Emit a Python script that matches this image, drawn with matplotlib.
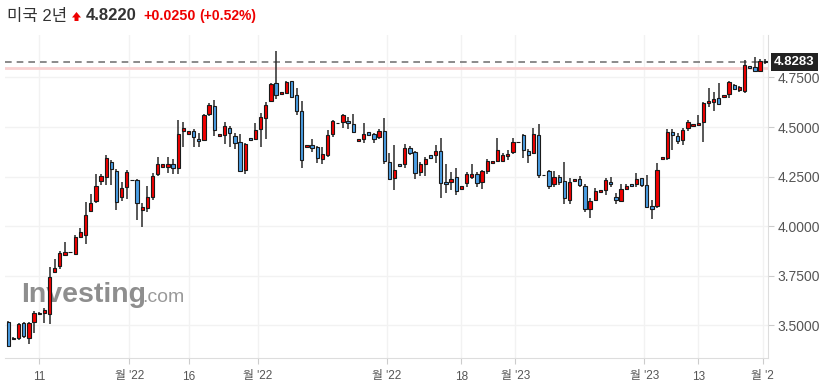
import numpy as np
import matplotlib
matplotlib.use("Agg")
import matplotlib.pyplot as plt
import matplotlib.transforms as mtrans
from matplotlib.patches import Polygon

plt.rcParams['font.family'] = ['Liberation Sans', 'Noto Sans CJK KR', 'DejaVu Sans']

# OHLC values (US 2Y yield, daily)
opens = [3.516, 3.439, 3.439, 3.513, 3.439, 3.519, 3.564, 3.565, 3.560, 3.771,
         3.800, 3.857, 3.869, 3.862, 3.948, 3.958, 4.079, 4.129, 4.230, 4.250,
         4.326, 4.279, 4.149, 4.200, 4.232, 4.232, 4.084, 4.091, 4.149, 4.265,
         4.300, 4.300, 4.313, 4.295, 4.482, 4.467, 4.480, 4.440, 4.437, 4.568,
         4.605, 4.454, 4.462, 4.494, 4.454, 4.425, 4.285, 4.445, 4.442, 4.489,
         4.544, 4.630, 4.724, 4.665, 4.673, 4.731, 4.660, 4.581, 4.398, 4.408,
         4.400, 4.338, 4.361, 4.464, 4.519, 4.524, 4.531, 4.514, 4.428, 4.442,
         4.474, 4.464, 4.449, 4.480, 4.323, 4.242, 4.314, 4.314, 4.393, 4.373,
         4.272, 4.316, 4.358, 4.361, 4.378, 4.223, 4.225, 4.247, 4.190, 4.217,
         4.250, 4.262, 4.222, 4.280, 4.318, 4.331, 4.331, 4.353, 4.376, 4.423,
         4.460, 4.378, 4.368, 4.460, 4.257, 4.277, 4.213, 4.249, 4.228, 4.134,
         4.227, 4.237, 4.202, 4.086, 4.133, 4.173, 4.183, 4.223, 4.146, 4.128,
         4.187, 4.212, 4.215, 4.242, 4.207, 4.101, 4.101, 4.338, 4.344, 4.474,
         4.457, 4.437, 4.494, 4.504, 4.509, 4.524, 4.620, 4.627, 4.647, 4.650,
         4.665, 4.711, 4.687, 4.682, 4.806, 4.801, 4.784, 4.834]
closes = [3.398, 3.431, 3.508, 3.449, 3.513, 3.562, 3.559, 3.578, 3.743, 3.790,
          3.864, 3.871, 3.869, 3.945, 3.971, 4.055, 4.116, 4.202, 4.254, 4.343,
          4.287, 4.124, 4.192, 4.272, 4.232, 4.116, 4.096, 4.146, 4.254, 4.313,
          4.313, 4.313, 4.295, 4.464, 4.495, 4.480, 4.449, 4.428, 4.559, 4.610,
          4.484, 4.464, 4.504, 4.472, 4.418, 4.280, 4.413, 4.433, 4.484, 4.549,
          4.610, 4.716, 4.660, 4.675, 4.726, 4.653, 4.580, 4.333, 4.408, 4.396,
          4.343, 4.363, 4.459, 4.529, 4.519, 4.559, 4.519, 4.474, 4.440, 4.464,
          4.462, 4.442, 4.479, 4.328, 4.237, 4.282, 4.302, 4.393, 4.368, 4.267,
          4.314, 4.338, 4.346, 4.378, 4.217, 4.212, 4.237, 4.180, 4.202, 4.264,
          4.264, 4.220, 4.277, 4.329, 4.329, 4.383, 4.358, 4.366, 4.423, 4.423,
          4.385, 4.358, 4.464, 4.257, 4.257, 4.205, 4.247, 4.222, 4.144, 4.223,
          4.237, 4.207, 4.086, 4.128, 4.176, 4.183, 4.232, 4.212, 4.134, 4.187,
          4.203, 4.202, 4.238, 4.207, 4.099, 4.089, 4.282, 4.348, 4.474, 4.462,
          4.428, 4.484, 4.524, 4.514, 4.519, 4.620, 4.632, 4.640, 4.616, 4.662,
          4.726, 4.694, 4.701, 4.811, 4.796, 4.784, 4.833, 4.8283]
highs = [3.521, 3.441, 3.514, 3.518, 3.516, 3.572, 3.567, 3.587, 3.793, 3.835,
         3.876, 3.922, 3.869, 3.956, 3.990, 4.121, 4.164, 4.264, 4.264, 4.358,
         4.334, 4.289, 4.225, 4.284, 4.232, 4.237, 4.116, 4.203, 4.267, 4.351,
         4.315, 4.351, 4.338, 4.536, 4.527, 4.482, 4.489, 4.469, 4.566, 4.623,
         4.635, 4.466, 4.524, 4.506, 4.469, 4.464, 4.418, 4.447, 4.519, 4.570,
         4.628, 4.724, 4.884, 4.677, 4.732, 4.734, 4.696, 4.630, 4.410, 4.439,
         4.405, 4.398, 4.485, 4.536, 4.519, 4.566, 4.552, 4.566, 4.442, 4.519,
         4.476, 4.472, 4.489, 4.544, 4.368, 4.408, 4.316, 4.415, 4.405, 4.378,
         4.326, 4.351, 4.360, 4.410, 4.444, 4.313, 4.275, 4.295, 4.204, 4.275,
         4.313, 4.274, 4.284, 4.338, 4.331, 4.444, 4.368, 4.385, 4.444, 4.423,
         4.464, 4.388, 4.494, 4.514, 4.257, 4.284, 4.280, 4.259, 4.326, 4.242,
         4.239, 4.255, 4.213, 4.141, 4.192, 4.185, 4.242, 4.250, 4.166, 4.212,
         4.213, 4.214, 4.267, 4.245, 4.257, 4.133, 4.318, 4.350, 4.489, 4.489,
         4.469, 4.494, 4.536, 4.516, 4.561, 4.625, 4.699, 4.678, 4.721, 4.664,
         4.734, 4.716, 4.707, 4.838, 4.808, 4.852, 4.842, 4.842]
lows = [3.392, 3.429, 3.427, 3.439, 3.405, 3.461, 3.556, 3.514, 3.506, 3.763,
        3.783, 3.850, 3.869, 3.860, 3.940, 3.912, 4.074, 4.117, 4.208, 4.208,
        4.210, 4.082, 4.129, 4.136, 4.232, 4.032, 3.995, 4.074, 4.133, 4.255,
        4.298, 4.267, 4.262, 4.262, 4.398, 4.465, 4.401, 4.401, 4.431, 4.554,
        4.454, 4.452, 4.415, 4.398, 4.388, 4.272, 4.265, 4.431, 4.435, 4.401,
        4.439, 4.627, 4.643, 4.663, 4.670, 4.650, 4.561, 4.294, 4.396, 4.373,
        4.321, 4.316, 4.351, 4.452, 4.519, 4.494, 4.489, 4.469, 4.426, 4.421,
        4.460, 4.418, 4.442, 4.314, 4.233, 4.181, 4.300, 4.292, 4.359, 4.237,
        4.254, 4.254, 4.344, 4.318, 4.141, 4.166, 4.183, 4.158, 4.188, 4.200,
        4.238, 4.197, 4.187, 4.262, 4.316, 4.324, 4.324, 4.334, 4.366, 4.423,
        4.343, 4.318, 4.363, 4.245, 4.257, 4.188, 4.200, 4.208, 4.112, 4.111,
        4.225, 4.200, 4.074, 4.040, 4.128, 4.171, 4.158, 4.200, 4.111, 4.124,
        4.183, 4.200, 4.200, 4.200, 4.091, 4.035, 4.091, 4.336, 4.334, 4.385,
        4.415, 4.410, 4.482, 4.502, 4.506, 4.423, 4.603, 4.581, 4.614, 4.648,
        4.645, 4.687, 4.678, 4.670, 4.794, 4.776, 4.783, 4.818]

last_price = 4.8283
prev_close = 4.797

x_tick_pos = [6, 23.5, 35, 48.5, 73.5, 88, 98.5, 123.5, 134, 146.5]
x_tick_labels = ["11", "월 '22", "16", "월 '22", "월 '22", "18", "월 '23", "월 '23", "13", "월 '2"]
y_ticks = [3.5, 3.75, 4.0, 4.25, 4.5, 4.75]

o = np.array(opens)
c = np.array(closes)
h = np.array(highs)
l = np.array(lows)
x = np.arange(len(o))

up_col = "#f20000"
dn_col = "#4a9fe6"
cols = np.where(c >= o, up_col, dn_col)

fig = plt.figure(figsize=(8.22, 3.92), dpi=100)
ax = fig.add_axes([5 / 822, 34 / 392, 763 / 822, 323 / 392])

ax.set_xlim(-0.65, 147.55)
ax.set_ylim(3.336, 4.964)

# grid
for yv in y_ticks:
    ax.axhline(yv, color="#f2f2f2", lw=1, zorder=0)
for xv in x_tick_pos:
    ax.axvline(xv, color="#f2f2f2", lw=1, zorder=0)

# watermark
ax.text(0.021, 0.173, "Investing", transform=ax.transAxes, fontsize=20.5,
        fontweight="bold", color="#8e8e8e", va="baseline", ha="left", zorder=0.5)
ax.text(0.180, 0.173, ".com", transform=ax.transAxes, fontsize=14,
        color="#9a9a9a", va="baseline", ha="left", zorder=0.5)

# reference lines
ax.axhline(prev_close, color="#f9d2d2", lw=2, zorder=1)
ax.axhline(last_price, color="#777777", lw=1.2, ls=(0, (4, 3)), zorder=1)

# candles
ax.vlines(x, l, h, color="#2a2a2a", lw=1.1, zorder=2)
ax.bar(x, np.abs(c - o), bottom=np.minimum(o, c), width=0.64, color=cols,
       edgecolor="#1a1a1a", linewidth=0.8, zorder=3)

# axes styling
for s in ["left", "top"]:
    ax.spines[s].set_visible(False)
ax.spines["bottom"].set_color("#dddddd")
ax.spines["right"].set_color("#dddddd")

ax.yaxis.tick_right()
ax.set_yticks(y_ticks)
ax.set_yticklabels([f"{v:.4f}" for v in y_ticks])
ax.tick_params(axis="y", length=4, color="#cccccc", labelsize=10,
               labelcolor="#555555", pad=3)

ax.set_xticks(x_tick_pos)
ax.set_xticklabels(x_tick_labels)
ax.tick_params(axis="x", length=4, color="#cccccc", labelsize=8.5,
               labelcolor="#555555", pad=5)

# last price box
trans = mtrans.blended_transform_factory(ax.transAxes, ax.transData)
ax.text(1.008, last_price, f"{last_price:.4f}", transform=trans, ha="left", va="center",
        fontsize=9.5, fontweight="bold", color="white", zorder=5,
        bbox=dict(boxstyle="square,pad=0.25", fc="#222222", ec="none"))

# title
ty = 1 - 16 / 392
fig.text(7 / 822, ty, "미국 2년", fontsize=12, color="#333333", va="center")
arrow = [(72, 17.5), (76.5, 12), (81, 17.5), (78.5, 17.5), (78.5, 21), (74.5, 21), (74.5, 17.5)]
fig.patches.append(Polygon([(px / 822, 1 - py / 392) for px, py in arrow], closed=True,
                           transform=fig.transFigure, fc="#ee0000", ec="none"))
fig.text(86 / 822, ty, "4.8220", fontsize=12, fontweight="bold", color="#333333", va="center")
fig.text(143 / 822, ty, "+0.0250", fontsize=10.3, fontweight="bold", color="#ee0000", va="center")
fig.text(199 / 822, ty, "(+0.52%)", fontsize=10, fontweight="bold", color="#ee0000", va="center")

fig.savefig("out.png", dpi=100)
